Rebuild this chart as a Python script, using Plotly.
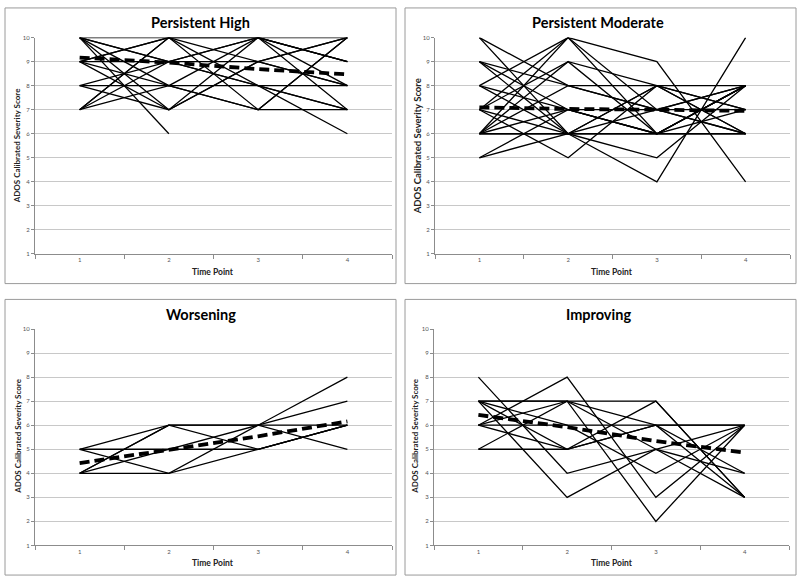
import plotly.graph_objects as go

# ---------------- data ----------------
time_points = [1, 2, 3, 4]
y_ticks = list(range(1, 11))
panel_titles = ["Persistent High", "Persistent Moderate", "Worsening", "Improving"]
x_title = "Time Point"
y_title = "ADOS Calibrated Severity Score"

persistent_high = [
    [10, 10, 10, 10], [10, 9, 9, 10], [10, 8, 10, 9], [10, 7, 9, 8],
    [10, 6, None, None], [9, 10, 8, 7], [9, 9, 10, 8], [9, 8, 7, 10],
    [9, 7, 10, 9], [8, 8, 8, 8], [8, 9, 10, 7], [8, 7, 9, 10],
    [7, 10, 9, 8], [7, 9, 8, 6], [7, 8, 7, 7], [7, 10, 7, 10],
    [9, 10, 10, 9], [10, 9, 8, 7],
]
persistent_high_mean = [9.17, 8.96, 8.69, 8.47]

persistent_moderate = [
    [10, 6, 7, 8], [9, 6, 8, 6], [9, 7, 6, 8], [8, 10, 9, 4],
    [8, 6, 6, 6], [7, 9, 8, 7], [7, 10, 6, 8], [7, 6, 4, 10],
    [7, 5, 8, 8], [6, 10, 7, 6], [6, 9, 6, 7], [6, 8, 7, 8],
    [6, 7, 7, 7], [6, 6, 5, 8], [5, 7, 6, 6], [5, 6, 8, 6],
    [8, 7, 6, 8], [10, 8, 7, 6], [9, 8, 8, 7], [6, 6, 6, 8],
]
persistent_moderate_mean = [7.10, 7.03, 7.00, 6.95]

worsening = [
    [5, 6, 6, 8], [5, 5, 5, 6], [5, 4, 6, 7], [4, 6, 5, 6],
    [4, 5, 6, 5], [4, 4, 5, 6], [4, 6, 6, 6],
]
worsening_mean = [4.42, 4.98, 5.54, 6.16]

improving = [
    [8, 4, 5, 6], [7, 3, 5, 4], [7, 7, 7, 3], [7, 5, 6, 3],
    [7, 6, 4, 6], [6, 8, 3, 6], [6, 7, 2, 6], [6, 5, 7, 3],
    [6, 6, 6, 6], [5, 7, 5, 3], [5, 5, 6, 4], [7, 7, 6, 6],
]
improving_mean = [6.43, 5.92, 5.34, 4.86]

groups = [
    (persistent_high, persistent_high_mean),
    (persistent_moderate, persistent_moderate_mean),
    (worsening, worsening_mean),
    (improving, improving_mean),
]

# ---------------- layout geometry (pixels) ----------------
W, H = 800, 583
# plot areas: (left, right, top(y=10), bottom(y=1))
plot_px = [
    (35, 392, 34, 253),
    (435, 790, 34, 253),
    (35, 392, 329, 548),
    (434, 789, 329, 548),
]
# panel frames: (x0, x1, y0, y1)
frame_px = [
    (5, 396, 4, 283),
    (405, 796, 4, 283),
    (5, 396, 299, 578),
    (405, 796, 299, 578),
]
title_px = [(201, 19), (598, 19), (201, 314), (598, 314)]
ylab_px = [(17, 144), (417, 144), (18, 438), (415, 438)]
xlab_px = [(213, 271), (612, 271), (213, 566), (612, 566)]
title_sizes = [14.5, 14.5, 14.5, 14.5]
ylab_sizes = [8, 9.5, 8, 8]

def px(x):
    return x / W

def py(y):
    return 1 - y / H

fig = go.Figure()
layout = dict(
    width=W, height=H, margin=dict(l=0, r=0, t=0, b=0),
    paper_bgcolor="white", plot_bgcolor="white", showlegend=False,
    annotations=[], shapes=[],
)

for i, (series, mean) in enumerate(groups):
    n = i + 1
    xa = "x" if n == 1 else f"x{n}"
    ya = "y" if n == 1 else f"y{n}"
    for s in series:
        fig.add_trace(go.Scatter(
            x=time_points, y=s, mode="lines", xaxis=xa, yaxis=ya,
            line=dict(color="black", width=1.3), connectgaps=False,
            hoverinfo="skip",
        ))
    fig.add_trace(go.Scatter(
        x=time_points, y=mean, mode="lines", xaxis=xa, yaxis=ya,
        line=dict(color="black", width=3.8, dash="10px,5px"),
        hoverinfo="skip",
    ))

    l, r, t, b = plot_px[i]
    xkey = "xaxis" if n == 1 else f"xaxis{n}"
    ykey = "yaxis" if n == 1 else f"yaxis{n}"
    layout[xkey] = dict(
        domain=[px(l), px(r)], anchor=ya, range=[0.5, 4.5],
        tickmode="array", tickvals=time_points,
        ticktext=[str(v) for v in time_points],
        ticks="", showgrid=False, zeroline=False,
        showline=True, linecolor="#8c8c8c", linewidth=1,
        tickfont=dict(family="Lato, Arial", size=6, color="#555555"),
        minor=dict(tickmode="array", tickvals=[0.5, 1.5, 2.5, 3.5, 4.5],
                   ticks="outside", ticklen=4, tickcolor="#8c8c8c", showgrid=False),
        fixedrange=True,
    )
    layout[ykey] = dict(
        domain=[py(b), py(t)], anchor=xa, range=[1, 10],
        tickmode="array", tickvals=y_ticks,
        ticks="outside", ticklen=3, tickcolor="#8c8c8c",
        showgrid=True, gridcolor="#c8c8c8", gridwidth=1, zeroline=False,
        showline=True, linecolor="#8c8c8c", linewidth=1,
        tickfont=dict(family="Lato, Arial", size=6, color="#555555"),
        fixedrange=True,
    )

    x0, x1, y0, y1 = frame_px[i]
    layout["shapes"].append(dict(
        type="rect", xref="paper", yref="paper",
        x0=px(x0), x1=px(x1), y0=py(y1), y1=py(y0),
        line=dict(color="#9a9a9a", width=1), fillcolor="rgba(0,0,0,0)",
    ))
    tx, ty = title_px[i]
    layout["annotations"].append(dict(
        text=f"<b>{panel_titles[i]}</b>", xref="paper", yref="paper",
        x=px(tx), y=py(ty), showarrow=False, xanchor="center", yanchor="middle",
        font=dict(family="Lato, Arial", size=title_sizes[i], color="black"),
    ))
    lx, ly = ylab_px[i]
    layout["annotations"].append(dict(
        text=f"<b>{y_title}</b>", xref="paper", yref="paper",
        x=px(lx), y=py(ly), showarrow=False, textangle=-90,
        xanchor="center", yanchor="middle",
        font=dict(family="Lato, Arial", size=ylab_sizes[i], color="#222222"),
    ))
    gx, gy = xlab_px[i]
    layout["annotations"].append(dict(
        text=f"<b>{x_title}</b>", xref="paper", yref="paper",
        x=px(gx), y=py(gy), showarrow=False, xanchor="center", yanchor="middle",
        font=dict(family="Lato, Arial", size=8.5, color="#222222"),
    ))

fig.update_layout(**layout)
fig.write_html(
    "out.html",
    config={"displayModeBar": False, "staticPlot": True},
    post_script="document.body.style.margin='0';document.body.style.overflow='hidden';",
)
